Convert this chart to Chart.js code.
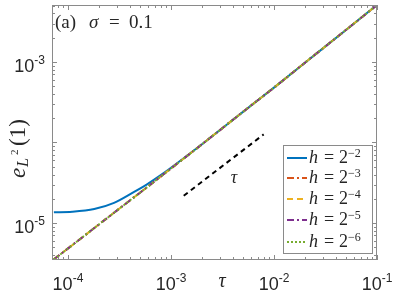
<!DOCTYPE html>
<html>
<head>
<meta charset="utf-8">
<script src="https://cdn.jsdelivr.net/npm/chart.js@4/dist/chart.umd.min.js"></script>
<style>
  html, body { margin: 0; padding: 0; background: #fff; }
  #wrap { width: 395px; height: 296px; }
</style>
</head>
<body>
<div id="wrap"><canvas id="chart" width="395" height="296"></canvas></div>
<script>
// ─── Données ────────────────────────────────
const tau    = [7.3e-5, 1.1e-4, 1.8e-4, 2.8e-4, 4.3e-4, 5.8e-4, 7.9e-4, 1e-3, 2e-3, 5e-3, 1e-2, 2e-2, 5e-2, 0.1];
const errH2  = [1.36e-5, 1.38e-5, 1.49e-5, 1.78e-5, 2.4e-5, 3.0e-5, 3.9e-5, 4.85e-5, 9.5e-5, 2.4e-4, 4.8e-4, 9.8e-4, 2.5e-3, 5.1e-3];
const errH3  = [3.54e-6, 5.3e-6, 8.65e-6, 1.34e-5, 2.05e-5, 2.75e-5, 3.75e-5, 4.75e-5, 9.5e-5, 2.4e-4, 4.8e-4, 9.8e-4, 2.5e-3, 5.1e-3];
const errH4  = [3.54e-6, 5.3e-6, 8.65e-6, 1.34e-5, 2.05e-5, 2.75e-5, 3.75e-5, 4.75e-5, 9.5e-5, 2.4e-4, 4.8e-4, 9.8e-4, 2.5e-3, 5.1e-3];
const errH5  = [3.54e-6, 5.3e-6, 8.65e-6, 1.34e-5, 2.05e-5, 2.75e-5, 3.75e-5, 4.75e-5, 9.5e-5, 2.4e-4, 4.8e-4, 9.8e-4, 2.5e-3, 5.1e-3];
const errH6  = [3.54e-6, 5.3e-6, 8.65e-6, 1.34e-5, 2.05e-5, 2.75e-5, 3.75e-5, 4.75e-5, 9.5e-5, 2.4e-4, 4.8e-4, 9.8e-4, 2.5e-3, 5.1e-3];
const refTau = [1.33e-3, 7.94e-3];
const refErr = [2.18e-5, 1.26e-4];

const seriesExp = ['2', '3', '4', '5', '6'];          // h = 2^-k
const xTickVals = [1e-4, 1e-3, 1e-2, 1e-1];
const xTickExp  = ['-4', '-3', '-2', '-1'];
const yTickVals = [1e-5, 1e-3];
const yTickExp  = ['-5', '-3'];

// ─── Styles ─────────────────────────────────
const SERIF = '"Liberation Serif", "DejaVu Serif", serif';
const SANS  = '"Liberation Sans", Arial, sans-serif';
const AXIS  = '#8a8a8a';
const TXT   = '#262626';
const colors = ['#0072BD', '#D95319', '#EDB120', '#7E2F8E', '#77AC30'];
const dashes = [[], [7, 3, 2, 3], [6, 4], [7, 3, 2, 3], [2, 2]];
const allErr = [errH2, errH3, errH4, errH5, errH6];

const pts = (xs, ys) => xs.map((v, i) => ({ x: v, y: ys[i] }));

const datasets = allErr.map((e, k) => ({
  label: 'h = 2^-' + seriesExp[k],
  data: pts(tau, e),
  borderColor: colors[k],
  borderDash: dashes[k],
  borderWidth: 2,
  pointRadius: 0,
  fill: false,
  cubicInterpolationMode: 'monotone',
  order: 5 - k
}));
datasets.push({
  label: 'tau',
  data: pts(refTau, refErr),
  borderColor: '#000',
  borderDash: [5, 4],
  borderWidth: 2,
  pointRadius: 0,
  fill: false,
  order: 0
});

// ─── Décor façon MATLAB ─────────────────────
function drawPow(ctx, x, yBase, base, exp, align) {
  ctx.font = '18px ' + SANS;
  const wb = ctx.measureText(base).width;
  ctx.font = '12px ' + SANS;
  const we = ctx.measureText(exp).width;
  let left = x;
  if (align === 'center') left = x - (wb + we) / 2;
  if (align === 'right') left = x - wb - we;
  ctx.textAlign = 'left';
  ctx.font = '18px ' + SANS;
  ctx.fillText(base, left, yBase);
  ctx.font = '12px ' + SANS;
  ctx.fillText(exp, left + wb, yBase - 8);
}

const decor = {
  id: 'decor',
  afterDraw(chart) {
    const { ctx, chartArea: a, scales: { x, y } } = chart;
    ctx.save();

    // cadre
    ctx.strokeStyle = AXIS;
    ctx.lineWidth = 1;
    ctx.setLineDash([]);
    ctx.strokeRect(a.left + 0.5, a.top + 0.5, a.right - a.left - 1, a.bottom - a.top - 1);

    // graduations (vers l'intérieur)
    ctx.beginPath();
    for (let d = -6; d <= -1; d++) {
      for (let m = 1; m <= 9; m++) {
        const v = m * Math.pow(10, d);
        const len = m === 1 ? 5 : 3;
        if (v >= x.min && v <= x.max) {
          const px = Math.round(x.getPixelForValue(v)) + 0.5;
          ctx.moveTo(px, a.bottom); ctx.lineTo(px, a.bottom - len);
          ctx.moveTo(px, a.top); ctx.lineTo(px, a.top + len);
        }
        if (v >= y.min && v <= y.max) {
          const py = Math.round(y.getPixelForValue(v)) + 0.5;
          ctx.moveTo(a.left, py); ctx.lineTo(a.left + len, py);
          ctx.moveTo(a.right, py); ctx.lineTo(a.right - len, py);
        }
      }
    }
    ctx.stroke();

    // étiquettes
    ctx.fillStyle = TXT;
    ctx.textBaseline = 'alphabetic';
    xTickVals.forEach((v, i) => drawPow(ctx, x.getPixelForValue(v), 290, '10', xTickExp[i], 'center'));
    yTickVals.forEach((v, i) => drawPow(ctx, 45, y.getPixelForValue(v) + 10.5, '10', yTickExp[i], 'right'));

    // titre d'axe x
    ctx.font = 'italic 20px ' + SERIF;
    ctx.textAlign = 'center';
    ctx.fillText('τ', 222, 287);

    // titre d'axe y : e_{L^2}(1)
    ctx.save();
    ctx.translate(25, 178);
    ctx.rotate(-Math.PI / 2);
    ctx.textAlign = 'left';
    ctx.font = 'italic 23px ' + SERIF;
    ctx.fillText('e', 0, 0);
    ctx.font = 'italic 16px ' + SERIF;
    ctx.fillText('L', 11, 3);
    ctx.font = '11px ' + SERIF;
    ctx.fillText('2', 23, -7);
    ctx.font = '23px ' + SERIF;
    ctx.fillText('(1)', 32, 0);
    ctx.restore();

    // titre (a) sigma = 0.1
    ctx.textAlign = 'left';
    ctx.font = '19px ' + SERIF;
    ctx.fillText('(a)', 55, 28);
    ctx.font = 'italic 19px ' + SERIF;
    ctx.fillText('σ', 89, 28);
    ctx.font = '19px ' + SERIF;
    ctx.fillText('=', 109, 28);
    ctx.fillText('0.1', 129, 28);

    // annotation de pente
    ctx.font = 'italic 18px ' + SERIF;
    ctx.textAlign = 'center';
    ctx.fillText('τ', 234, 183);

    // légende
    const lx = 283, ly = 145, lw = 89, lh = 108;
    ctx.fillStyle = '#fff';
    ctx.fillRect(lx, ly, lw, lh);
    ctx.strokeStyle = AXIS;
    ctx.strokeRect(lx + 0.5, ly + 0.5, lw, lh);
    const rows = [158, 178, 199, 220, 242];
    rows.forEach((ry, k) => {
      ctx.strokeStyle = colors[k];
      ctx.lineWidth = 2;
      ctx.setLineDash(dashes[k]);
      ctx.beginPath();
      ctx.moveTo(287, ry); ctx.lineTo(307, ry);
      ctx.stroke();
      ctx.setLineDash([]);
      ctx.fillStyle = TXT;
      ctx.textAlign = 'left';
      ctx.font = 'italic 18px ' + SERIF;
      ctx.fillText('h', 309, ry + 5);
      ctx.font = '18px ' + SERIF;
      ctx.fillText('=', 324, ry + 5);
      ctx.fillText('2', 339, ry + 5);
      ctx.font = '12px ' + SERIF;
      ctx.fillText('\u2212' + seriesExp[k], 348, ry - 1);
    });

    ctx.restore();
  }
};

// ─── Graphique ──────────────────────────────
new Chart(document.getElementById('chart').getContext('2d'), {
  type: 'line',
  data: { datasets },
  plugins: [decor],
  options: {
    responsive: false,
    animation: false,
    layout: { padding: { top: 5, right: 18, left: 0, bottom: 0 } },
    plugins: { legend: { display: false }, tooltip: { enabled: false } },
    scales: {
      x: {
        type: 'logarithmic',
        min: 7.3e-5, max: 0.1,
        grid: { display: false },
        border: { display: false },
        ticks: { display: false },
        afterFit: s => { s.height = 36; }
      },
      y: {
        type: 'logarithmic',
        min: 3.47e-6, max: 5.1e-3,
        grid: { display: false },
        border: { display: false },
        ticks: { display: false },
        afterFit: s => { s.width = 52; }
      }
    }
  }
});
</script>
</body>
</html>
